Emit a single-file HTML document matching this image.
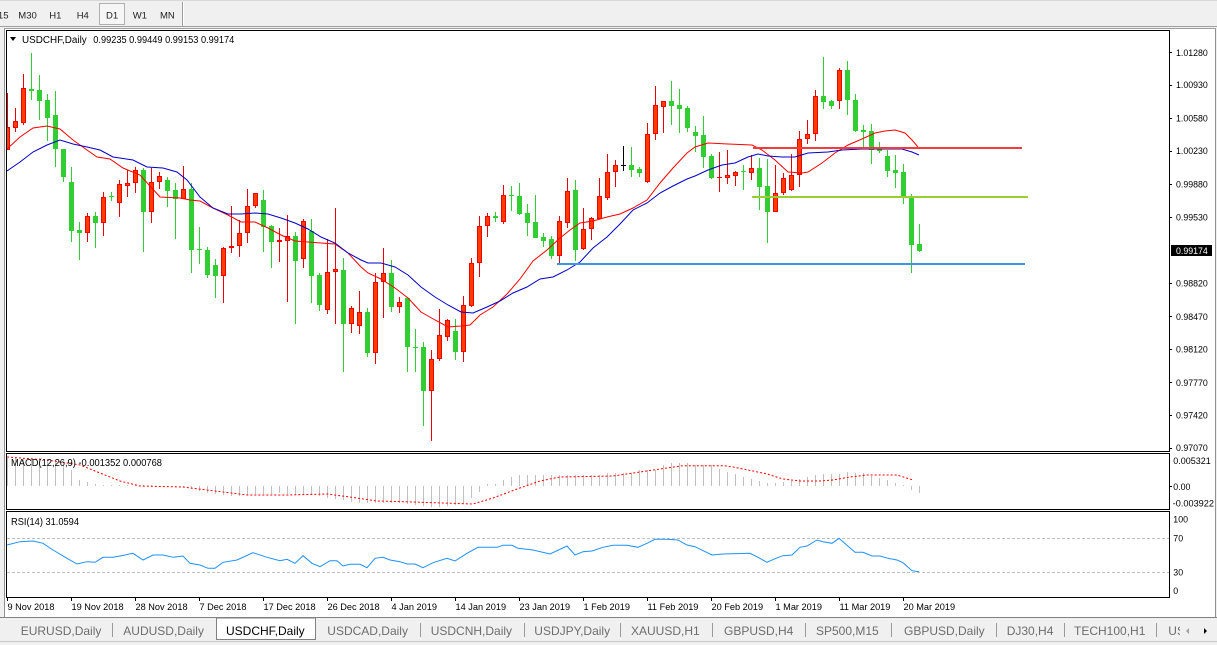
<!DOCTYPE html>
<html><head><meta charset="utf-8"><style>
html,body{margin:0;padding:0;background:#f0f0f0;}
svg{display:block;font-family:"Liberation Sans",sans-serif;}
</style></head><body>
<svg width="1217" height="645" viewBox="0 0 1217 645" xmlns="http://www.w3.org/2000/svg">
<defs>
<clipPath id="cm"><rect x="7" y="31" width="1162" height="420"/></clipPath>
<clipPath id="cmacd"><rect x="7" y="454" width="1162" height="55"/></clipPath>
<clipPath id="crsi"><rect x="7" y="512" width="1162" height="85"/></clipPath>
<clipPath id="ctab"><rect x="0" y="618" width="1180" height="24"/></clipPath>
</defs>
<rect x="0" y="0" width="1217" height="645" fill="#f0f0f0"/>
<!-- toolbar -->
<line x1="0" y1="0.5" x2="1217" y2="0.5" stroke="#d8d8d8"/>
<line x1="0" y1="26.5" x2="1217" y2="26.5" stroke="#a0a0a0"/>
<g font-size="9.5" fill="#222">
<text x="8.5" y="18.7" text-anchor="end">M15</text>
<text x="18.3" y="18.7">M30</text>
<text x="49.3" y="18.7">H1</text>
<text x="76.7" y="18.7">H4</text>
<rect x="99.5" y="3.5" width="25" height="21" fill="#f6f6f6" stroke="#b0b0b0"/>
<text x="106" y="18.7">D1</text>
<text x="132.7" y="18.7">W1</text>
<text x="160" y="18.7">MN</text>
</g>
<line x1="182.5" y1="2" x2="182.5" y2="26" stroke="#a0a0a0"/>
<line x1="183.5" y1="2" x2="183.5" y2="26" stroke="#ffffff"/>
<!-- chart window -->
<rect x="5" y="28" width="1210" height="589" fill="#ffffff"/>
<line x1="4.5" y1="28" x2="4.5" y2="617" stroke="#909090"/>
<line x1="1215.5" y1="28" x2="1215.5" y2="617" stroke="#909090"/>
<line x1="4" y1="28.5" x2="1216" y2="28.5" stroke="#a0a0a0"/>
<!-- pane borders -->
<rect x="6.5" y="30.5" width="1163" height="421" fill="none" stroke="#000"/>
<rect x="6.5" y="453.5" width="1163" height="56" fill="none" stroke="#000"/>
<rect x="6.5" y="511.5" width="1163" height="86" fill="none" stroke="#000"/>

<g clip-path="url(#cm)">
<!-- wicks -->
<path fill="none" stroke="#ee0000" stroke-width="1" shape-rendering="crispEdges" d="M7.5 93V150M15.5 108V132M23.5 74V125M87.5 213V242M103.5 192V236M119.5 180V217M127.5 170V197M135.5 167V193M151.5 168V223M159.5 172V189M183.5 166V199M223.5 247V303M231.5 206V253M239.5 220V257M247.5 189V243M255.5 193V208M279.5 228V262M287.5 215V302M303.5 219V268M327.5 239V314M335.5 208V324M351.5 306V333M359.5 291V334M375.5 273V364M383.5 248V318M399.5 297V313M431.5 350V441M439.5 309V361M447.5 319V341M463.5 296V362M471.5 258V307M479.5 216V277M487.5 213V237M503.5 185V224M559.5 216V263M567.5 178V228M583.5 208V250M591.5 217V240M599.5 178V219M607.5 154V200M615.5 160V187M647.5 123V183M655.5 86V140M663.5 101V133M719.5 152V192M727.5 150V184M735.5 171V186M751.5 155V180M775.5 165V212M783.5 173V195M791.5 154V191M799.5 131V187M807.5 120V144M815.5 90V141M839.5 68V109"/>
<path fill="none" stroke="#32cd32" stroke-width="1" shape-rendering="crispEdges" d="M31.5 53V100M39.5 75V120M47.5 94V141M55.5 91V167M63.5 149V182M71.5 167V242M79.5 222V260M95.5 212V248M111.5 192V201M143.5 168V252M167.5 177V207M175.5 183V239M191.5 183V273M199.5 227V264M207.5 247V278M215.5 259V298M263.5 190V252M271.5 225V268M295.5 232V324M311.5 219V303M319.5 273V311M343.5 258V372M367.5 308V357M391.5 260V312M407.5 297V372M415.5 329V372M423.5 342V426M455.5 319V360M495.5 212V222M511.5 186V211M519.5 183V215M527.5 204V236M535.5 195V238M543.5 233V247M551.5 236V259M575.5 180V261M631.5 147V177M639.5 167V177M671.5 81V125M679.5 89V133M687.5 106V132M695.5 126V152M703.5 116V168M711.5 154V179M743.5 165V190M759.5 158V210M767.5 159V243M823.5 57V109M831.5 100V109M847.5 61V115M855.5 94V132M863.5 125V147M871.5 124V164M879.5 142V153M887.5 150V177M895.5 155V188M903.5 164V204M911.5 194V273M919.5 224V252"/>
<path fill="none" stroke="#000" stroke-width="1" shape-rendering="crispEdges" d="M623.5 146V171"/>
<rect x="621" y="165" width="5" height="1" fill="#000"/>
<!-- red bodies outer -->
<g fill="#ee0000" shape-rendering="crispEdges">
<rect x="5" y="127" width="5" height="23"/><rect x="13" y="121" width="5" height="7"/><rect x="21" y="88" width="5" height="35"/><rect x="85" y="216" width="5" height="17"/><rect x="101" y="197" width="5" height="26"/><rect x="117" y="184" width="5" height="19"/><rect x="125" y="183" width="5" height="3"/><rect x="133" y="170" width="5" height="13"/><rect x="149" y="182" width="5" height="30"/><rect x="157" y="176" width="5" height="6"/><rect x="181" y="189" width="5" height="10"/><rect x="221" y="248" width="5" height="28"/><rect x="229" y="246" width="5" height="2"/><rect x="237" y="233" width="5" height="13"/><rect x="245" y="206" width="5" height="27"/><rect x="253" y="193" width="5" height="13"/><rect x="277" y="240" width="5" height="2"/><rect x="285" y="236" width="5" height="5"/><rect x="301" y="221" width="5" height="38"/><rect x="325" y="272" width="5" height="38"/><rect x="333" y="269" width="5" height="3"/><rect x="349" y="308" width="5" height="16"/><rect x="357" y="312" width="5" height="14"/><rect x="373" y="282" width="5" height="71"/><rect x="381" y="273" width="5" height="9"/><rect x="397" y="302" width="5" height="5"/><rect x="429" y="359" width="5" height="32"/><rect x="437" y="335" width="5" height="24"/><rect x="445" y="320" width="5" height="17"/><rect x="461" y="305" width="5" height="47"/><rect x="469" y="263" width="5" height="43"/><rect x="477" y="226" width="5" height="37"/><rect x="485" y="216" width="5" height="10"/><rect x="501" y="195" width="5" height="27"/><rect x="557" y="221" width="5" height="35"/><rect x="565" y="191" width="5" height="32"/><rect x="581" y="229" width="5" height="20"/><rect x="589" y="218" width="5" height="11"/><rect x="597" y="196" width="5" height="23"/><rect x="605" y="172" width="5" height="26"/><rect x="613" y="165" width="5" height="7"/><rect x="645" y="134" width="5" height="48"/><rect x="653" y="105" width="5" height="29"/><rect x="661" y="101" width="5" height="6"/><rect x="717" y="177" width="5" height="1"/><rect x="725" y="175" width="5" height="3"/><rect x="733" y="172" width="5" height="4"/><rect x="749" y="168" width="5" height="5"/><rect x="773" y="193" width="5" height="19"/><rect x="781" y="178" width="5" height="15"/><rect x="789" y="175" width="5" height="15"/><rect x="797" y="139" width="5" height="36"/><rect x="805" y="134" width="5" height="5"/><rect x="813" y="96" width="5" height="38"/><rect x="837" y="70" width="5" height="31"/>
</g>
<g fill="#ff3c00" shape-rendering="crispEdges">
<rect x="6" y="128" width="3" height="21"/><rect x="14" y="122" width="3" height="5"/><rect x="22" y="89" width="3" height="33"/><rect x="86" y="217" width="3" height="15"/><rect x="102" y="198" width="3" height="24"/><rect x="118" y="185" width="3" height="17"/><rect x="126" y="184" width="3" height="1"/><rect x="134" y="171" width="3" height="11"/><rect x="150" y="183" width="3" height="28"/><rect x="158" y="177" width="3" height="4"/><rect x="182" y="190" width="3" height="8"/><rect x="222" y="249" width="3" height="26"/><rect x="238" y="234" width="3" height="11"/><rect x="246" y="207" width="3" height="25"/><rect x="254" y="194" width="3" height="11"/><rect x="286" y="237" width="3" height="3"/><rect x="302" y="222" width="3" height="36"/><rect x="326" y="273" width="3" height="36"/><rect x="334" y="270" width="3" height="1"/><rect x="350" y="309" width="3" height="14"/><rect x="358" y="313" width="3" height="12"/><rect x="374" y="283" width="3" height="69"/><rect x="382" y="274" width="3" height="7"/><rect x="398" y="303" width="3" height="3"/><rect x="430" y="360" width="3" height="30"/><rect x="438" y="336" width="3" height="22"/><rect x="446" y="321" width="3" height="15"/><rect x="462" y="306" width="3" height="45"/><rect x="470" y="264" width="3" height="41"/><rect x="478" y="227" width="3" height="35"/><rect x="486" y="217" width="3" height="8"/><rect x="502" y="196" width="3" height="25"/><rect x="558" y="222" width="3" height="33"/><rect x="566" y="192" width="3" height="30"/><rect x="582" y="230" width="3" height="18"/><rect x="590" y="219" width="3" height="9"/><rect x="598" y="197" width="3" height="21"/><rect x="606" y="173" width="3" height="24"/><rect x="614" y="166" width="3" height="5"/><rect x="646" y="135" width="3" height="46"/><rect x="654" y="106" width="3" height="27"/><rect x="662" y="102" width="3" height="4"/><rect x="726" y="176" width="3" height="1"/><rect x="734" y="173" width="3" height="2"/><rect x="750" y="169" width="3" height="3"/><rect x="774" y="194" width="3" height="17"/><rect x="782" y="179" width="3" height="13"/><rect x="790" y="176" width="3" height="13"/><rect x="798" y="140" width="3" height="34"/><rect x="806" y="135" width="3" height="3"/><rect x="814" y="97" width="3" height="36"/><rect x="838" y="71" width="3" height="29"/>
</g>
<g fill="#32cd32" shape-rendering="crispEdges">
<rect x="29" y="89" width="5" height="2"/><rect x="37" y="90" width="5" height="11"/><rect x="45" y="100" width="5" height="18"/><rect x="53" y="115" width="5" height="34"/><rect x="61" y="149" width="5" height="28"/><rect x="69" y="182" width="5" height="49"/><rect x="77" y="230" width="5" height="3"/><rect x="93" y="216" width="5" height="7"/><rect x="109" y="196" width="5" height="1"/><rect x="141" y="170" width="5" height="42"/><rect x="165" y="180" width="5" height="11"/><rect x="173" y="190" width="5" height="9"/><rect x="189" y="189" width="5" height="61"/><rect x="197" y="249" width="5" height="1"/><rect x="205" y="250" width="5" height="25"/><rect x="213" y="265" width="5" height="11"/><rect x="261" y="200" width="5" height="27"/><rect x="269" y="226" width="5" height="16"/><rect x="293" y="236" width="5" height="25"/><rect x="309" y="231" width="5" height="45"/><rect x="317" y="275" width="5" height="30"/><rect x="341" y="270" width="5" height="54"/><rect x="365" y="312" width="5" height="41"/><rect x="389" y="273" width="5" height="34"/><rect x="405" y="298" width="5" height="49"/><rect x="413" y="347" width="5" height="1"/><rect x="421" y="347" width="5" height="44"/><rect x="453" y="331" width="5" height="21"/><rect x="493" y="216" width="5" height="2"/><rect x="509" y="195" width="5" height="1"/><rect x="517" y="196" width="5" height="18"/><rect x="525" y="213" width="5" height="10"/><rect x="533" y="222" width="5" height="16"/><rect x="541" y="237" width="5" height="4"/><rect x="549" y="239" width="5" height="17"/><rect x="573" y="190" width="5" height="60"/><rect x="629" y="165" width="5" height="5"/><rect x="637" y="169" width="5" height="4"/><rect x="669" y="101" width="5" height="5"/><rect x="677" y="105" width="5" height="4"/><rect x="685" y="108" width="5" height="20"/><rect x="693" y="132" width="5" height="4"/><rect x="701" y="135" width="5" height="22"/><rect x="709" y="156" width="5" height="22"/><rect x="741" y="171" width="5" height="1"/><rect x="757" y="168" width="5" height="19"/><rect x="765" y="186" width="5" height="26"/><rect x="821" y="96" width="5" height="6"/><rect x="829" y="101" width="5" height="5"/><rect x="845" y="70" width="5" height="30"/><rect x="853" y="100" width="5" height="31"/><rect x="861" y="130" width="5" height="2"/><rect x="869" y="131" width="5" height="19"/><rect x="877" y="149" width="5" height="2"/><rect x="885" y="156" width="5" height="15"/><rect x="893" y="170" width="5" height="3"/><rect x="901" y="172" width="5" height="25"/><rect x="909" y="197" width="5" height="48"/><rect x="917" y="244" width="5" height="7"/>
</g>
<!-- moving averages -->
<polyline fill="none" stroke="#ff0000" stroke-width="1" points="7,149 20,137 33,128 47,126 60,129 73,140 87,150 97,157 110,159 123,168 140,175 160,197 180,198 190,200 200,201 213,208 228,215 241,222 255,222 268,228 281,235 295,241 308,242 321,243 335,244 348,253 361,267 368,273 381,279 395,288 408,298 421,312 435,320 448,327 461,326 470,325 480,315 493,307 507,294 520,279 533,261 547,250 560,238 570,230 580,223 593,221 607,217 620,214 633,208 647,200 660,183 673,168 687,153 695,147 708,143 728,144 752,145 762,150 775,160 788,172 802,173 808,172 822,163 835,153 848,145 862,139 875,133 885,131 895,130 905,133 912,140 918,147"/>
<polyline fill="none" stroke="#0000c8" stroke-width="1" points="7,171 20,162 33,152 47,145 60,140 73,144 87,147 100,150 113,157 133,160 147,167 163,168 177,172 187,180 200,197 213,208 228,214 241,214 255,213 268,214 281,218 295,223 308,229 321,237 335,243 348,253 361,260 368,263 381,263 395,267 408,275 421,287 435,297 448,305 461,312 473,313 487,307 500,301 513,293 527,287 540,279 553,277 567,270 580,262 593,248 607,237 620,224 633,210 647,203 660,193 673,186 687,179 695,176 708,170 722,165 735,163 748,157 758,154 768,156 782,157 795,157 808,153 828,152 842,150 862,149 882,149 902,149 912,152 919,155"/>
<!-- horizontal lines -->
<rect x="753" y="147" width="269" height="2" fill="#f23c3c"/>
<rect x="752" y="196" width="276" height="2" fill="#9acd32"/>
<rect x="557" y="263" width="468" height="2" fill="#3c96e6"/>
</g>
<!-- title -->
<polygon points="10,37 16,37 13,41" fill="#000"/>
<text x="22" y="43" font-size="10" fill="#000" textLength="64.7" lengthAdjust="spacingAndGlyphs">USDCHF,Daily</text>
<text x="93.3" y="43" font-size="10" fill="#000" textLength="141" lengthAdjust="spacingAndGlyphs">0.99235 0.99449 0.99153 0.99174</text>
<!-- price axis -->
<g stroke="#000" shape-rendering="crispEdges">
<path d="M1169 52.5h3M1169 85.5h3M1169 118.5h3M1169 151.5h3M1169 184.5h3M1169 217.5h3M1169 283.5h3M1169 316.5h3M1169 349.5h3M1169 382.5h3M1169 415.5h3M1169 448.5h3M1169 486.5h3"/>
</g>
<g font-size="8.8" fill="#000">
<text x="1176" y="55.9">1.01280</text>
<text x="1176" y="88.2">1.00930</text>
<text x="1176" y="121.5">1.00580</text>
<text x="1176" y="154.2">1.00230</text>
<text x="1176" y="187.5">0.99880</text>
<text x="1176" y="220.5">0.99530</text>
<text x="1176" y="286.5">0.98820</text>
<text x="1176" y="319.9">0.98470</text>
<text x="1176" y="352.5">0.98120</text>
<text x="1176" y="385.9">0.97770</text>
<text x="1176" y="418.5">0.97420</text>
<text x="1176" y="451.2">0.97070</text>
</g>
<rect x="1171" y="245" width="41" height="11" fill="#000"/>
<text x="1176" y="253.9" font-size="8.8" fill="#fff">0.99174</text>

<!-- MACD -->
<g clip-path="url(#cmacd)">
<path fill="none" stroke="#c0c0c0" stroke-width="1" shape-rendering="crispEdges" d="M7.5 486V458M15.5 486V458M23.5 486V458M31.5 486V458M39.5 486V458M47.5 486V459M55.5 486V462M63.5 486V466M71.5 486V470M79.5 486V480M87.5 486V482M95.5 486V484M103.5 486V485M111.5 486V485M119.5 486V485M127.5 486V485M135.5 486V485M143.5 486V485M151.5 486V485M175.5 486V487M183.5 486V487M191.5 486V489M199.5 486V491M207.5 486V493M215.5 486V494M223.5 486V495M231.5 486V496M239.5 486V496M247.5 486V495M255.5 486V494M263.5 486V494M271.5 486V494M279.5 486V493M287.5 486V494M295.5 486V495M303.5 486V495M311.5 486V495M319.5 486V496M327.5 486V498M335.5 486V499M343.5 486V500M351.5 486V502M359.5 486V503M367.5 486V503M375.5 486V503M383.5 486V503M391.5 486V503M399.5 486V503M407.5 486V504M415.5 486V505M423.5 486V506M431.5 486V507M439.5 486V507M447.5 486V506M455.5 486V505M463.5 486V504M471.5 486V498M479.5 486V492M487.5 486V484M495.5 486V484M503.5 486V480M511.5 486V477M519.5 486V475M527.5 486V475M535.5 486V475M543.5 486V475M551.5 486V475M559.5 486V475M567.5 486V475M575.5 486V475M583.5 486V475M591.5 486V475M599.5 486V475M607.5 486V473M615.5 486V473M623.5 486V473M631.5 486V473M639.5 486V470M647.5 486V470M655.5 486V470M663.5 486V465M671.5 486V463M679.5 486V463M687.5 486V463M695.5 486V465M703.5 486V465M711.5 486V465M719.5 486V469M727.5 486V472M735.5 486V474M743.5 486V477M751.5 486V479M759.5 486V481M767.5 486V483M775.5 486V483M783.5 486V482M791.5 486V481M799.5 486V479M807.5 486V477M815.5 486V475M823.5 486V474M831.5 486V474M839.5 486V474M847.5 486V472M855.5 486V473M863.5 486V473M871.5 486V476M879.5 486V478M887.5 486V480M895.5 486V483M903.5 486V485M911.5 486V490M919.5 486V493"/>
<polyline fill="none" stroke="#ff0000" stroke-width="1" stroke-dasharray="2,2" points="7,457 47,460 80,465 100,473 120,481 140,486 183,487 207,490 247,495 287,495 327,494 350,497 377,501 403,501.7 473,504 493,498 517,489 540,481 560,477 613,476 640,472 667,468 683,465.7 723,465.7 733,467 753,471 767,474 783,479 800,481 820,481 833,480 850,477 867,475 897,475 913,480"/>
</g>
<text x="11" y="466" font-size="10" fill="#000" textLength="151" lengthAdjust="spacingAndGlyphs">MACD(12,26,9) -0.001352 0.000768</text>
<g font-size="8.8" fill="#000">
<text x="1173.3" y="463.8" textLength="37.4" lengthAdjust="spacingAndGlyphs">0.005321</text>
<text x="1173.3" y="489.8">0.00</text>
<text x="1172.7" y="506.4" textLength="41.3" lengthAdjust="spacingAndGlyphs">-0.003922</text>
</g>

<!-- RSI -->
<g clip-path="url(#crsi)">
<line x1="7" y1="538.5" x2="1169" y2="538.5" stroke="#c0c0c0" stroke-dasharray="3,2"/>
<line x1="7" y1="572.5" x2="1169" y2="572.5" stroke="#c0c0c0" stroke-dasharray="3,2"/>
<polyline fill="none" stroke="#1e90ff" stroke-width="1" points="7,545 20,541.7 33,541 43,543.3 53,550 67,558.3 77,564 87,561.7 95,562.3 103,557.3 113,557.3 120,556 133,553.3 143,560 153,555 163,555 173,557.3 183,556 190,563.3 200,565 208,568.3 215,568.3 223,562.3 237,560 253,552.7 267,557.3 280,560.7 287,559.3 295,563.3 303,555.7 312,563.3 320,566.7 330,560.7 337,560.7 343,566 350,564.3 360,564.3 367,567.7 375,558.3 383,557.3 390,560 400,561.7 407,564 415,564 423,567.7 433,562.7 447,558.3 455,561 467,553.3 478,547.3 497,547.3 503,545.3 512,545.3 518,548.3 533,550 550,554 567,546 575,555 583,551.7 592,551 603,547.3 613,545.3 627,545.3 638,547.3 647,543.3 655,539.3 667,539.3 678,540 687,545 695,546.7 712,555 723,554 750,553.3 758,557.3 767,562.3 775,558.7 783,555.7 792,555 800,547.3 807,546 817,540 823,541.7 832,543.3 839,538.3 855,552.3 863,552.3 872,556 880,556 888,558.3 897,560 903,562.7 912,570.7 919,571.7"/>
</g>
<text x="11" y="525" font-size="10" fill="#000" textLength="68" lengthAdjust="spacingAndGlyphs">RSI(14) 31.0594</text>
<g font-size="8.8" fill="#000">
<text x="1173.3" y="522.5">100</text>
<text x="1173.3" y="541.5">70</text>
<text x="1173.3" y="575.5">30</text>
<text x="1173.3" y="593.9">0</text>
</g>

<!-- x axis -->
<path stroke="#000" shape-rendering="crispEdges" d="M7.5 597v4M71.5 597v4M135.5 597v4M199.5 597v4M263.5 597v4M327.5 597v4M391.5 597v4M455.5 597v4M519.5 597v4M583.5 597v4M647.5 597v4M711.5 597v4M775.5 597v4M839.5 597v4M903.5 597v4"/>
<g font-size="9.2" fill="#000">
<text x="7.5" y="610">9 Nov 2018</text>
<text x="71.5" y="610">19 Nov 2018</text>
<text x="135.5" y="610">28 Nov 2018</text>
<text x="199.5" y="610">7 Dec 2018</text>
<text x="263.5" y="610">17 Dec 2018</text>
<text x="327.5" y="610">26 Dec 2018</text>
<text x="391.5" y="610">4 Jan 2019</text>
<text x="455.5" y="610">14 Jan 2019</text>
<text x="519.5" y="610">23 Jan 2019</text>
<text x="583.5" y="610">1 Feb 2019</text>
<text x="647.5" y="610">11 Feb 2019</text>
<text x="711.5" y="610">20 Feb 2019</text>
<text x="775.5" y="610">1 Mar 2019</text>
<text x="839.5" y="610">11 Mar 2019</text>
<text x="903.5" y="610">20 Mar 2019</text>
</g>

<!-- tabs -->
<rect x="0" y="618" width="1217" height="24" fill="#f0f0f0"/>
<line x1="0" y1="617.5" x2="1217" y2="617.5" stroke="#808080"/>
<line x1="0" y1="641.5" x2="1217" y2="641.5" stroke="#c8c8c8"/>
<rect x="216.5" y="618" width="99" height="21.5" fill="#ffffff" stroke="#808080"/>
<g stroke="#9a9a9a" shape-rendering="crispEdges">
<path d="M112.5 623v14M420.5 623v14M524.5 623v14M620.5 623v14M712.5 623v14M805.5 623v14M891.5 623v14M996.5 623v14M1064.5 623v14M1156.5 623v14"/>
</g>
<g font-size="12" fill="#6d6d6d" clip-path="url(#ctab)">
<text x="20.7" y="635">EURUSD,Daily</text>
<text x="123.3" y="635">AUDUSD,Daily</text>
<text x="226" y="635" fill="#000">USDCHF,Daily</text>
<text x="327.3" y="635">USDCAD,Daily</text>
<text x="430.7" y="635">USDCNH,Daily</text>
<text x="534.3" y="635">USDJPY,Daily</text>
<text x="631" y="635">XAUUSD,H1</text>
<text x="724" y="635">GBPUSD,H4</text>
<text x="816" y="635">SP500,M15</text>
<text x="904" y="635">GBPUSD,Daily</text>
<text x="1006.7" y="635">DJ30,H4</text>
<text x="1074" y="635">TECH100,H1</text>
<text x="1168.3" y="635">USDJPY,H1</text>
</g>
<polygon points="1189,628 1189,634 1186,631" fill="#a0a0a0"/>
<polygon points="1204,628 1204,634 1207,631" fill="#000"/>
</svg>
</body></html>
